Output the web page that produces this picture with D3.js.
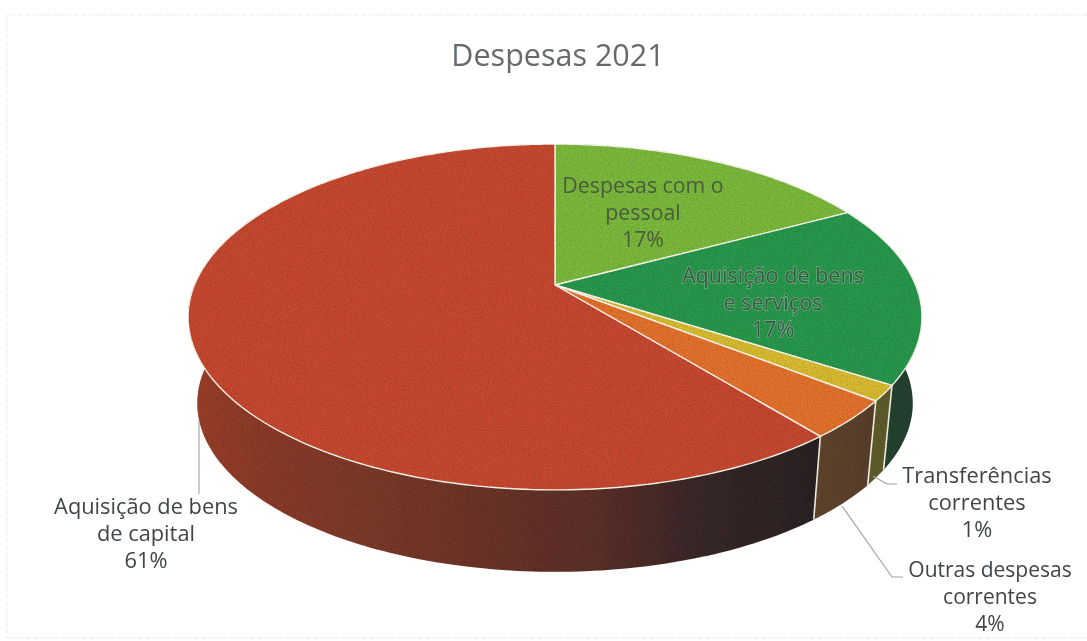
<!DOCTYPE html>
<html>
<head>
<meta charset="utf-8">
<script src="https://cdn.jsdelivr.net/npm/d3@7"></script>
<style>
    html, body { margin: 0; padding: 0; background: #fff; }
    text { font-family: "Open Sans", sans-serif; text-anchor: middle; }
</style>
</head>
<body>
<div id="chart"></div>
<script>
const categories = ["Despesas com o pessoal", "Aquisição de bens e serviços", "Transferências correntes", "Outras despesas correntes", "Aquisição de bens de capital"];
const values = [17.2, 16.9, 1.45, 3.6, 60.85];
const topColors = ["#7cba3e", "#2a984e", "#d8bc33", "#e3722e", "#c64a30"];
const sideColors = [["#2a4f3c"], ["#2c503c", "#26402f"], ["#66622f", "#5c5a2e"], ["#64472f", "#523c2b"], ["#9a412c", "#8a3a2a", "#7a3a2a", "#5b3029", "#3a2a29", "#2b2425"]];
const labelLines = [["Despesas com o", "pessoal"], ["Aquisição de bens", "e serviços"], ["Transferências", "correntes"], ["Outras despesas", "correntes"], ["Aquisição de bens", "de capital"]];

const width = 1087, height = 641;
const cx = 555, cy = 285;
const radiusX = 360.6, radiusY = 167, tilt = 0.185;
const depth = 87, shrink = 0.975;

const svg = d3.select("#chart").append("svg").attr("width", width).attr("height", height);

//faint frame left by the scan, no right edge
svg.append("path").attr("d", "M1087,15H7V638H1087")
    .attr("fill", "none").attr("stroke", "#ececec").attr("stroke-width", 1).attr("stroke-dasharray", "5,2");

//circle to screen, far side is smaller
const project = (angle) => {
    const w = 1 + tilt * Math.cos(angle);
    return [cx + radiusX * Math.sin(angle) / w, cy - radiusY * Math.cos(angle) / w];
};
const projectBottom = (angle) => {
    const [x, y] = project(angle);
    return [cx + (x - cx) * shrink, cy + (y - cy) * shrink + depth];
};

const pie = d3.pie().sort(null).value(d => d);
const arcs = pie(values);
const percent = d3.format(".0%");
const total = d3.sum(values);
const line = d3.line();

const sample = (a) => d3.range(a.startAngle, a.endAngle, Math.PI / 180).concat([a.endAngle]);

const defs = svg.append("defs");

//gradients for the side wall
sideColors.forEach((c, i) => {
    const red = i === 4;
    const g = defs.append("linearGradient").attr("id", "side" + i)
        .attr("gradientUnits", "userSpaceOnUse")
        .attr("x1", red ? 190 : 800).attr("x2", red ? 820 : 920)
        .attr("y1", 0).attr("y2", 0);
    const stops = red ? [0, 0.13, 0.3, 0.65, 0.81, 1] : c.map((d, j) => j / Math.max(1, c.length - 1));
    c.forEach((d, j) => g.append("stop").attr("offset", stops[j]).attr("stop-color", d));
});

//paper grain of the scan
const grain = defs.append("filter").attr("id", "grain")
    .attr("x", 0).attr("y", 0).attr("width", 1).attr("height", 1);
grain.append("feTurbulence").attr("type", "fractalNoise").attr("baseFrequency", 0.7)
    .attr("numOctaves", 2).attr("seed", 4).attr("result", "n");
grain.append("feColorMatrix").attr("in", "n").attr("type", "matrix")
    .attr("values", "0 0 0 0 0  0 0 0 0 0  0 0 0 0 0  0.7 0 0 0 -0.27").attr("result", "dots");
grain.append("feComposite").attr("in", "dots").attr("in2", "SourceAlpha").attr("operator", "in").attr("result", "d2");
const merge = grain.append("feMerge");
merge.append("feMergeNode").attr("in", "SourceGraphic");
merge.append("feMergeNode").attr("in", "d2");

const soft = defs.append("filter").attr("id", "soft");
soft.append("feGaussianBlur").attr("stdDeviation", 0.3);

const pieGroup = svg.append("g").attr("filter", "url(#grain)");

//side wall
pieGroup.append("g").selectAll("path").data(arcs).enter().append("path")
    .attr("d", a => {
        const t = sample(a);
        return line(t.map(project).concat(t.slice().reverse().map(projectBottom))) + "Z";
    })
    .attr("fill", (a, i) => `url(#side${i})`)
    .attr("stroke", "none");

//white edges between wall pieces
pieGroup.append("g").selectAll("line").data(arcs.slice(0, 4)).enter().append("line")
    .attr("x1", a => project(a.endAngle)[0]).attr("y1", a => project(a.endAngle)[1])
    .attr("x2", a => projectBottom(a.endAngle)[0]).attr("y2", a => projectBottom(a.endAngle)[1])
    .attr("stroke", "#f6f2e6").attr("stroke-width", 1.6);

//top face
pieGroup.append("g").selectAll("path").data(arcs).enter().append("path")
    .attr("d", a => line([[cx, cy]].concat(sample(a).map(project))) + "Z")
    .attr("fill", (a, i) => topColors[i])
    .attr("stroke", "#fbf8ee").attr("stroke-width", 1.4).attr("stroke-linejoin", "round");

//leader lines
const leaders = [
    [[873, 476], [887, 484], [897, 484]],
    [[842, 506], [892, 577], [903, 577]],
    [[199, 420], [199, 494]]
];
svg.append("g").selectAll("path").data(leaders).enter().append("path")
    .attr("d", d => line(d))
    .attr("fill", "none").attr("stroke", "#9a9ea0").attr("stroke-width", 1.1);

const textGroup = svg.append("g").attr("filter", "url(#soft)");

//title
textGroup.append("text").attr("x", 558).attr("y", 66)
    .attr("font-size", 30.5).attr("fill", "#666a6c").text("Despesas 2021");

//labels: centre x, first baseline, size, colour, halo
const labelPlace = [
    [643, 193, 21.3, "#4a5c3e", "none"],
    [773, 283, 21.6, "#3c5546", "#6fb583"],
    [977, 483, 21.8, "#3f4548", "none"],
    [990, 577, 21, "#3f4548", "none"],
    [146, 514, 21.8, "#3f4548", "none"]
];
arcs.forEach((a, i) => {
    const [x, y, size, color, halo] = labelPlace[i];
    const rows = labelLines[i].concat([percent(values[i] / total)]);
    textGroup.append("g").selectAll("text").data(rows).enter().append("text")
        .attr("x", x)
        .attr("y", (d, j) => y + j * 27.2)
        .attr("font-size", size)
        .attr("fill", color)
        .attr("stroke", halo)
        .attr("stroke-width", 1.4)
        .attr("paint-order", "stroke")
        .text(d => d);
});
</script>
</body>
</html>
